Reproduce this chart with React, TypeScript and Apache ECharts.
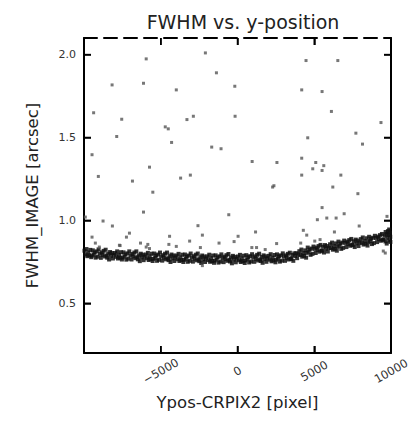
import React, { useEffect, useRef } from "react";
import * as echarts from "echarts";

const xTicks = [-10000, -5000, 0, 5000, 10000];
const yTicks = [0.5, 1.0, 1.5, 2.0];
const xRange = [-10000, 10000];
const yRange = [0.2, 2.1];

const titleText = "FWHM vs. y-position";
const xName = "Ypos-CRPIX2 [pixel]";
const yName = "FWHM_IMAGE [arcsec]";

// dense locus of stars
const bandPoints: number[][] = [
  [-9970, 0.817], [-9905, 0.794], [-9840, 0.827], [-9785, 0.784], [-9720, 0.806], [-9660, 0.789], [-9590, 0.822], [-9530, 0.778],
  [-9490, 0.787], [-9425, 0.819], [-9365, 0.794], [-9300, 0.807], [-9240, 0.775], [-9175, 0.813], [-9115, 0.781], [-9050, 0.825],
  [-8970, 0.799], [-8905, 0.774], [-8840, 0.807], [-8785, 0.792], [-8720, 0.816], [-8660, 0.782], [-8590, 0.823], [-8530, 0.788],
  [-8490, 0.775], [-8425, 0.799], [-8365, 0.764], [-8300, 0.809], [-8240, 0.786], [-8175, 0.803], [-8115, 0.770], [-8050, 0.792],
  [-7970, 0.803], [-7905, 0.780], [-7840, 0.813], [-7785, 0.770], [-7720, 0.792], [-7660, 0.775], [-7590, 0.808], [-7530, 0.764],
  [-7490, 0.775], [-7425, 0.807], [-7365, 0.782], [-7300, 0.795], [-7240, 0.763], [-7175, 0.801], [-7115, 0.769], [-7050, 0.813],
  [-6970, 0.789], [-6905, 0.764], [-6840, 0.797], [-6785, 0.782], [-6720, 0.806], [-6660, 0.772], [-6590, 0.813], [-6530, 0.778],
  [-6490, 0.765], [-6425, 0.789], [-6365, 0.754], [-6300, 0.799], [-6240, 0.776], [-6175, 0.793], [-6115, 0.760], [-6050, 0.782],
  [-5970, 0.794], [-5905, 0.771], [-5840, 0.804], [-5785, 0.761], [-5720, 0.783], [-5660, 0.766], [-5590, 0.799], [-5530, 0.755],
  [-5490, 0.768], [-5425, 0.800], [-5365, 0.775], [-5300, 0.788], [-5240, 0.756], [-5175, 0.794], [-5115, 0.762], [-5050, 0.806],
  [-4970, 0.782], [-4905, 0.757], [-4840, 0.790], [-4785, 0.775], [-4720, 0.799], [-4660, 0.765], [-4590, 0.806], [-4530, 0.771],
  [-4490, 0.760], [-4425, 0.784], [-4365, 0.749], [-4300, 0.794], [-4240, 0.771], [-4175, 0.788], [-4115, 0.755], [-4050, 0.777],
  [-3970, 0.788], [-3905, 0.765], [-3840, 0.798], [-3785, 0.755], [-3720, 0.777], [-3660, 0.760], [-3590, 0.793], [-3530, 0.749],
  [-3490, 0.762], [-3425, 0.794], [-3365, 0.769], [-3300, 0.782], [-3240, 0.750], [-3175, 0.788], [-3115, 0.756], [-3050, 0.800],
  [-2970, 0.776], [-2905, 0.751], [-2840, 0.784], [-2785, 0.769], [-2720, 0.793], [-2660, 0.759], [-2590, 0.800], [-2530, 0.765],
  [-2490, 0.754], [-2425, 0.778], [-2365, 0.743], [-2300, 0.788], [-2240, 0.765], [-2175, 0.782], [-2115, 0.749], [-2050, 0.771],
  [-1970, 0.783], [-1905, 0.760], [-1840, 0.793], [-1785, 0.750], [-1720, 0.772], [-1660, 0.755], [-1590, 0.788], [-1530, 0.744],
  [-1490, 0.757], [-1425, 0.789], [-1365, 0.764], [-1300, 0.777], [-1240, 0.745], [-1175, 0.783], [-1115, 0.751], [-1050, 0.795],
  [-970, 0.773], [-905, 0.748], [-840, 0.781], [-785, 0.766], [-720, 0.790], [-660, 0.756], [-590, 0.797], [-530, 0.762],
  [-490, 0.752], [-425, 0.776], [-365, 0.741], [-300, 0.786], [-240, 0.763], [-175, 0.780], [-115, 0.747], [-50, 0.769],
  [30, 0.782], [95, 0.759], [160, 0.792], [215, 0.749], [280, 0.771], [340, 0.754], [410, 0.787], [470, 0.743],
  [510, 0.758], [575, 0.790], [635, 0.765], [700, 0.778], [760, 0.746], [825, 0.784], [885, 0.752], [950, 0.796],
  [1030, 0.775], [1095, 0.750], [1160, 0.783], [1215, 0.768], [1280, 0.792], [1340, 0.758], [1410, 0.799], [1470, 0.764],
  [1510, 0.755], [1575, 0.779], [1635, 0.744], [1700, 0.789], [1760, 0.766], [1825, 0.783], [1885, 0.750], [1950, 0.772],
  [2030, 0.786], [2095, 0.763], [2160, 0.796], [2215, 0.753], [2280, 0.775], [2340, 0.758], [2410, 0.791], [2470, 0.747],
  [2510, 0.763], [2575, 0.795], [2635, 0.770], [2700, 0.783], [2760, 0.751], [2825, 0.789], [2885, 0.757], [2950, 0.801],
  [3030, 0.781], [3095, 0.756], [3160, 0.789], [3215, 0.774], [3280, 0.798], [3340, 0.764], [3410, 0.805], [3470, 0.770],
  [3510, 0.767], [3575, 0.791], [3635, 0.756], [3700, 0.801], [3760, 0.785], [3825, 0.802], [3885, 0.772], [3950, 0.795],
  [4030, 0.814], [4095, 0.791], [4160, 0.824], [4215, 0.781], [4280, 0.803], [4340, 0.786], [4410, 0.819], [4470, 0.775],
  [4510, 0.804], [4575, 0.836], [4635, 0.811], [4700, 0.824], [4760, 0.792], [4825, 0.830], [4885, 0.798], [4950, 0.842],
  [5030, 0.828], [5095, 0.803], [5160, 0.836], [5215, 0.821], [5280, 0.845], [5340, 0.811], [5410, 0.852], [5470, 0.817],
  [5510, 0.817], [5575, 0.841], [5635, 0.806], [5700, 0.851], [5760, 0.828], [5825, 0.845], [5885, 0.812], [5950, 0.834],
  [6030, 0.856], [6095, 0.833], [6160, 0.866], [6215, 0.823], [6280, 0.845], [6340, 0.828], [6410, 0.861], [6470, 0.817],
  [6510, 0.840], [6575, 0.872], [6635, 0.847], [6700, 0.860], [6760, 0.828], [6825, 0.866], [6885, 0.834], [6950, 0.878],
  [7030, 0.864], [7095, 0.839], [7160, 0.872], [7215, 0.857], [7280, 0.881], [7340, 0.847], [7410, 0.888], [7470, 0.853],
  [7510, 0.850], [7575, 0.874], [7635, 0.839], [7700, 0.884], [7760, 0.861], [7825, 0.878], [7885, 0.845], [7950, 0.867],
  [8030, 0.887], [8095, 0.864], [8160, 0.897], [8215, 0.854], [8280, 0.876], [8340, 0.859], [8410, 0.892], [8470, 0.848],
  [8510, 0.869], [8575, 0.901], [8635, 0.876], [8700, 0.889], [8760, 0.857], [8825, 0.895], [8885, 0.863], [8950, 0.907],
  [9030, 0.894], [9095, 0.869], [9160, 0.902], [9215, 0.887], [9280, 0.911], [9340, 0.877], [9410, 0.918], [9470, 0.883],
  [9510, 0.884], [9575, 0.908], [9635, 0.873], [9700, 0.918], [9760, 0.895], [9825, 0.912], [9885, 0.879], [9950, 0.901],
  [9800, 0.935], [9880, 0.945], [9930, 0.925], [9650, 0.930], [9960, 0.870], [9720, 0.860]
];

// scattered sources away from the locus
const outlierPoints: number[][] = [
  [-5948, 1.974], [-8170, 1.817], [-6124, 1.827], [-9373, 1.649], [-7543, 1.610], [-7869, 1.506], [-9477, 1.396],
  [-2092, 2.010], [-1373, 1.890], [4464, 1.964], [6536, 1.964], [4183, 1.787], [5510, 1.777], [-176, 1.809],
  [6118, 1.657], [9347, 1.590], [7712, 1.526], [4575, 1.498], [8144, 1.460], [954, 1.355], [2569, 1.349],
  [4183, 1.375], [5098, 1.349], [5621, 1.330], [4902, 1.311], [5510, 1.301], [-5732, 1.321], [-9066, 1.265],
  [-6843, 1.237], [-5516, 1.170], [-6124, 1.050], [-9915, 1.020], [-8758, 0.996], [-8150, 0.966], [-7039, 0.923],
  [-7235, 0.899], [-9477, 0.899], [-9261, 0.863], [-3987, 1.787], [-3294, 1.608], [-2876, 1.628], [-157, 1.628],
  [-4706, 1.564], [-4510, 1.552], [-4294, 1.470], [-1680, 1.442], [-1072, 1.432], [-3706, 1.255], [-3072, 1.273],
  [-569, 1.034], [2288, 1.201], [2373, 1.209], [4183, 1.273], [6732, 1.273], [6209, 1.201], [7843, 1.161],
  [5510, 1.077], [5203, 1.004], [5817, 1.014], [6425, 1.014], [6948, 1.040], [1176, 0.930], [39, 0.904],
  [7928, 0.966], [6314, 0.930], [4288, 0.940], [4510, 0.911], [9739, 1.024], [-2575, 0.968], [-2288, 0.911],
  [-4425, 0.904], [-3118, 0.875], [-1203, 0.863], [-222, 0.872], [-6320, 0.863], [-5732, 0.830], [-5948, 0.839],
  [-7647, 0.848], [-2288, 0.727], [9497, 0.815], [9627, 0.803], [4118, 0.863], [5033, 0.875], [5379, 0.884],
  [2549, 0.860], [935, 0.836], [1242, 0.836], [1804, 0.824], [-5843, 0.855], [-4471, 0.855], [-3987, 0.843],
  [-2418, 0.836], [-7693, 0.850], [-9000, 0.839]
];

export default function App() {
  const ref = useRef<HTMLDivElement>(null);
  useEffect(() => {
    document.body.style.margin = "0";
    const chart = echarts.init(ref.current!, null, { renderer: "svg" });
    const font = "DejaVu Sans";
    const TICK = 7;
    const fmtX = (v: number) => (v <= -10000 ? "" : v < 0 ? "\u2212" + Math.abs(v) : String(v));
    const mkLine = (dashed: boolean) => ({
      show: true,
      onZero: false,
      lineStyle: { color: "#000", width: 2, type: dashed ? [13, 7] : "solid" },
    });
    const mkTick = (vals: number[]) => ({
      show: true,
      inside: true,
      length: TICK,
      customValues: vals,
      lineStyle: { color: "#000", width: 1.5 },
    });
    // tick marks on all four sides, placed through the axis scales
    const xTickData = xTicks.map((v) => [v, yRange[0]]);
    const yTickData = yTicks.map((v) => [xRange[0], v]);
    const renderXTick = (_p: any, api: any) => {
      const v = api.value(0);
      const b = api.coord([v, yRange[0]]);
      const t = api.coord([v, yRange[1]]);
      return {
        type: "group",
        children: [
          { type: "line", shape: { x1: b[0], y1: b[1], x2: b[0], y2: b[1] - TICK }, style: { stroke: "#000", lineWidth: 1.5 } },
          { type: "line", shape: { x1: t[0], y1: t[1], x2: t[0], y2: t[1] + TICK }, style: { stroke: "#000", lineWidth: 1.5 } },
        ],
      };
    };
    const renderYTick = (_p: any, api: any) => {
      const v = api.value(1);
      const l = api.coord([xRange[0], v]);
      const r = api.coord([xRange[1], v]);
      return {
        type: "group",
        children: [
          { type: "line", shape: { x1: l[0], y1: l[1], x2: l[0] + TICK, y2: l[1] }, style: { stroke: "#000", lineWidth: 1.5 } },
          { type: "line", shape: { x1: r[0], y1: r[1], x2: r[0] - TICK, y2: r[1] }, style: { stroke: "#000", lineWidth: 1.5 } },
        ],
      };
    };
    chart.setOption({
      animation: false,
      backgroundColor: "#fff",
      title: {
        text: titleText,
        left: 238,
        top: 7,
        textAlign: "center",
        textStyle: { fontFamily: font, fontSize: 19, fontWeight: "normal", color: "#222" },
      },
      grid: { left: 84, right: 22, top: 38, bottom: 68 },
      xAxis: [
        {
          type: "value",
          min: xRange[0],
          max: xRange[1],
          interval: 5000,
          position: "bottom",
          splitLine: { show: false },
          axisTick: mkTick(xTicks),
          axisLine: mkLine(false),
          name: xName,
          nameLocation: "middle",
          nameGap: 41,
          nameTextStyle: { fontFamily: font, fontSize: 16.5, color: "#222" },
          axisLabel: {
            formatter: fmtX,
            rotate: 30,
            align: "center",
            verticalAlign: "middle",
            margin: 18,
            fontFamily: font,
            fontSize: 11.5,
            color: "#333",
          },
        },
        {
          type: "value",
          min: xRange[0],
          max: xRange[1],
          interval: 5000,
          position: "top",
          splitLine: { show: false },
          axisTick: mkTick(xTicks),
          axisLine: mkLine(true),
          axisLabel: { show: false },
        },
      ],
      yAxis: [
        {
          type: "value",
          min: yRange[0],
          max: yRange[1],
          position: "left",
          splitLine: { show: false },
          axisTick: mkTick(yTicks),
          axisLine: mkLine(false),
          name: yName,
          nameLocation: "middle",
          nameGap: 43,
          nameRotate: 90,
          nameTextStyle: { fontFamily: font, fontSize: 16.5, color: "#222" },
          axisLabel: {
            customValues: yTicks,
            formatter: (v: number) => v.toFixed(1),
            margin: 8,
            fontFamily: font,
            fontSize: 11,
            color: "#333",
          },
        },
        {
          type: "value",
          min: yRange[0],
          max: yRange[1],
          position: "right",
          splitLine: { show: false },
          axisTick: mkTick(yTicks),
          axisLine: mkLine(false),
          axisLabel: { show: false },
        },
      ],
      series: [
        {
          type: "scatter",
          data: bandPoints,
          symbol: "rect",
          symbolSize: 4,
          itemStyle: { color: "#111", opacity: 0.85 },
        },
        {
          type: "scatter",
          data: outlierPoints,
          symbol: "rect",
          symbolSize: 3,
          itemStyle: { color: "#555" },
        },
        {
          type: "custom",
          coordinateSystem: "cartesian2d",
          data: xTickData,
          renderItem: renderXTick,
          clip: false,
          silent: true,
          z: 10,
        },
        {
          type: "custom",
          coordinateSystem: "cartesian2d",
          data: yTickData,
          renderItem: renderYTick,
          clip: false,
          silent: true,
          z: 10,
        },
      ],
    });
    return () => chart.dispose();
  }, []);
  return <div ref={ref} style={{ width: 413, height: 421 }} />;
}
